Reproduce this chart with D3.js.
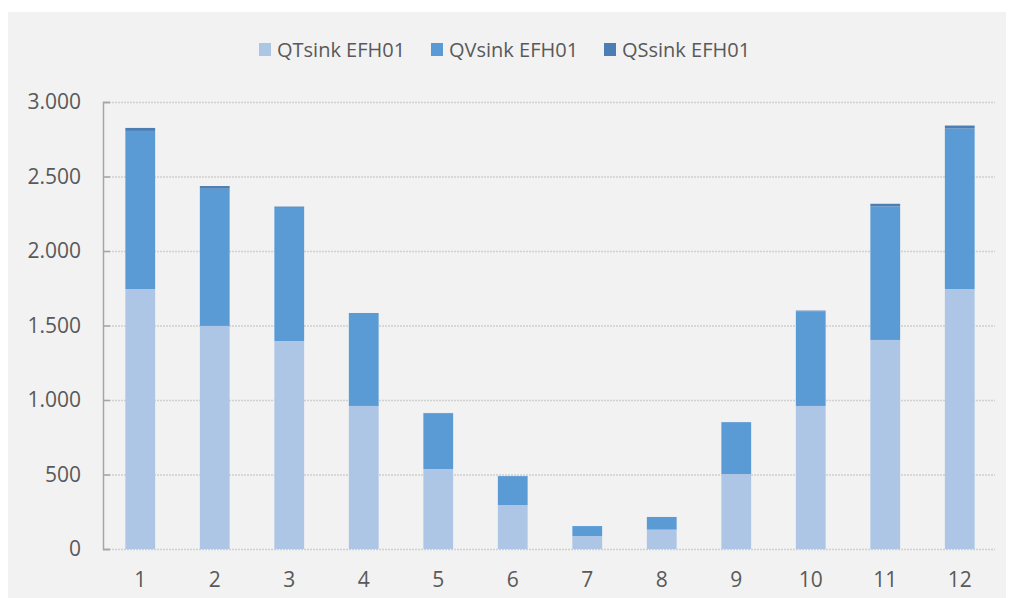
<!DOCTYPE html>
<meta charset="utf-8">
<script src="https://cdn.jsdelivr.net/npm/d3@7"></script>
<style>
  body { margin: 0; background: #fff; }
  text { font-family: "Open Sans", sans-serif; fill: #595959; }
</style>
<div id="chart"></div>
<script>
  // months and stacked series
  const months = ["1", "2", "3", "4", "5", "6", "7", "8", "9", "10", "11", "12"];
  const qtSink = [1745, 1497, 1396, 960, 537, 295, 87, 130, 503, 960, 1403, 1745];
  const qvSink = [1061, 921, 894, 619, 374, 194, 67, 85, 348, 635, 896, 1077];
  const qsSink = [20, 18, 8, 5, 2, 1, 0, 0, 1, 5, 18, 20];
  const seriesNames = ["QTsink EFH01", "QVsink EFH01", "QSsink EFH01"];
  const seriesColors = ["#adc6e6", "#5b9bd5", "#4a7eb4"];
  const yTicks = [0, 500, 1000, 1500, 2000, 2500, 3000];

  const W = 1009, H = 598;
  const margin = {top: 102, right: 12, bottom: 49, left: 103};

  const svg = d3.select("#chart").append("svg")
    .attr("width", W).attr("height", H);

  // grey chart panel
  svg.append("rect")
    .attr("x", 8).attr("y", 12)
    .attr("width", 998).attr("height", 586)
    .attr("fill", "#f2f2f2");

  const x = d3.scaleBand()
    .domain(months)
    .range([margin.left, 997])
    .paddingInner(0.6).paddingOuter(0.3);

  const y = d3.scaleLinear()
    .domain([0, 3000])
    .range([H - margin.bottom, margin.top]);

  // gridlines
  svg.append("g")
    .selectAll("line")
    .data(yTicks)
    .join("line")
      .attr("x1", margin.left).attr("x2", 995)
      .attr("y1", d => y(d) + 0.5).attr("y2", d => y(d) + 0.5)
      .attr("stroke", "#d0d0d0")
      .attr("stroke-width", 1.5)
      .attr("stroke-dasharray", "2,1");

  // stacked bars
  const rows = months.map((m, i) => ({month: m, qt: qtSink[i], qv: qvSink[i], qs: qsSink[i]}));
  const stack = d3.stack().keys(["qt", "qv", "qs"])(rows);

  svg.append("g")
    .selectAll("g")
    .data(stack)
    .join("g")
      .attr("fill", (d, i) => seriesColors[i])
    .selectAll("rect")
    .data(d => d)
    .join("rect")
      .attr("x", d => x(d.data.month))
      .attr("width", x.bandwidth())
      .attr("y", d => y(d[1]))
      .attr("height", d => Math.max(0, y(d[0]) - y(d[1])));

  // y axis
  const yAxis = svg.append("g")
    .attr("transform", `translate(${margin.left},0)`)
    .call(d3.axisLeft(y).tickValues(yTicks).tickSize(-7).tickPadding(22)
      .tickFormat(d => d3.format(",")(d).replace(/,/g, ".")));
  yAxis.select(".domain").attr("stroke", "#a6a6a6").attr("stroke-width", 1.5);
  yAxis.selectAll(".tick line").attr("stroke", "#a6a6a6").attr("stroke-width", 1.5);
  yAxis.selectAll("text").style("font-size", "21px").attr("fill", "#595959");

  // x labels
  svg.append("g")
    .selectAll("text")
    .data(months)
    .join("text")
      .attr("x", d => x(d) + x.bandwidth() / 2)
      .attr("y", 580)
      .attr("dy", "0.35em")
      .attr("text-anchor", "middle")
      .style("font-size", "21px")
      .text(d => d);

  // legend
  const legendX = [259, 431, 604];
  const legend = svg.append("g")
    .selectAll("g")
    .data(seriesNames)
    .join("g")
      .attr("transform", (d, i) => `translate(${legendX[i]},43)`);
  legend.append("rect")
    .attr("width", 12).attr("height", 13)
    .attr("fill", (d, i) => seriesColors[i]);
  legend.append("text")
    .attr("x", 18).attr("y", 7)
    .attr("dy", "0.35em")
    .style("font-size", "20px")
    .text(d => d);
</script>
